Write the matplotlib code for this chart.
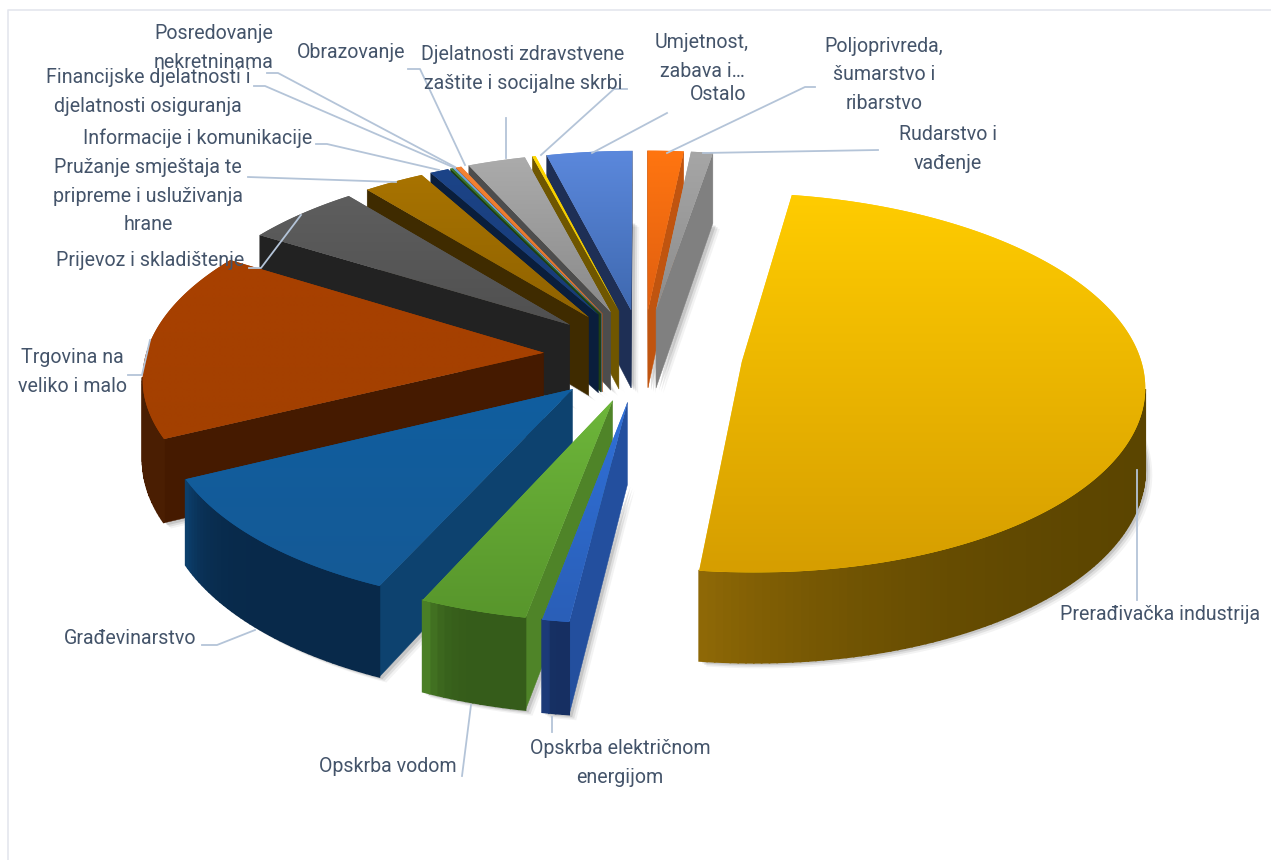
import numpy as np
import matplotlib
matplotlib.use("Agg")
import matplotlib.pyplot as plt
from matplotlib.patches import Polygon
from matplotlib.colors import to_rgb

categories = ["Poljoprivreda, šumarstvo i ribarstvo", "Rudarstvo i vađenje", "Prerađivačka industrija",
              "Opskrba električnom energijom", "Opskrba vodom", "Građevinarstvo", "Trgovina na veliko i malo",
              "Prijevoz i skladištenje", "Pružanje smještaja te pripreme i usluživanja hrane",
              "Informacije i komunikacije", "Financijske djelatnosti i djelatnosti osiguranja",
              "Posredovanje nekretninama", "Obrazovanje", "Djelatnosti zdravstvene zaštite i socijalne skrbi",
              "Umjetnost, zabava i…", "Ostalo"]
values = [1.65, 1.0, 49.3, 0.95, 3.81, 11.0, 16.15, 5.32, 2.8, 0.85, 0.1, 0.1, 0.25, 2.65, 0.15, 3.92]

# (top light, top dark, outer side light, outer side dark, cut face)
styles = [
    ("#FF7510", "#E05F10", "#C0540F", "#A84A0C", "#C0540F"),
    ("#A6A6A6", "#8C8C8C", "#8A8A8A", "#6E6E6E", "#808080"),
    ("#FFCC00", "#D69E00", "#8E6806", "#5A4400", "#5A4400"),
    ("#3070D8", "#2A5FB8", "#1C3A78", "#162F62", "#234F9E"),
    ("#6DB63A", "#58962C", "#4A7F26", "#355C1A", "#4F8428"),
    ("#105E9F", "#155A96", "#0C3F6B", "#08294A", "#0D426F"),
    ("#A84000", "#A34000", "#5E2605", "#4A1E02", "#451A00"),
    ("#5E5E5E", "#505050", "#2A2A2A", "#222222", "#222222"),
    ("#A87300", "#906300", "#4A3300", "#3F2B00", "#3F2B00"),
    ("#1C4488", "#173A74", "#0C1F44", "#0A1A38", "#0A1E3C"),
    ("#3F7A2A", "#356622", "#1F4012", "#1A360F", "#1F4012"),
    ("#6CA8DE", "#5C95CC", "#3C6A94", "#335C80", "#3C6A94"),
    ("#F58232", "#E0702A", "#A8541C", "#904818", "#A8541C"),
    ("#ABABAB", "#8A8A8A", "#555555", "#484848", "#4D4D4D"),
    ("#FFD800", "#E0BC00", "#7A5E00", "#6A5200", "#6F5600"),
    ("#5B88DC", "#3F69B0", "#24396A", "#1A2C52", "#1E2F55"),
]

label_texts = ["Poljoprivreda,\nšumarstvo i\nribarstvo", "Rudarstvo i\nvađenje", "Prerađivačka industrija",
               "Opskrba električnom\nenergijom", "Opskrba vodom", "Građevinarstvo", "Trgovina na\nveliko i malo",
               "Prijevoz i skladištenje", "Pružanje smještaja te\npripreme i usluživanja\nhrane",
               "Informacije i komunikacije", "Financijske djelatnosti i\ndjelatnosti osiguranja",
               "Posredovanje\nnekretninama", "Obrazovanje", "Djelatnosti zdravstvene\nzaštite i socijalne skrbi",
               "Umjetnost,\nzabava i…", "Ostalo"]
label_pos = [(884, 75), (948, 149), (1160, 615), (620, 763), (388, 766), (130, 638), (72, 372), (150, 261),
             (148, 196), (198, 138), (148, 92), (214, 48), (351, 52), (523, 69), (702, 57), (718, 94)]
leaders = [[(815, 87), (805, 87), (667, 153)], [(878, 150), (703, 153)], [(1137, 600), (1137, 470)],
           [(552, 732), (552, 717)], [(462, 776), (471, 705)], [(202, 645), (217, 645), (255, 630)],
           [(128, 375), (142, 375), (150, 340)], [(249, 268), (261, 268), (301, 215)], [(248, 177), (396, 182)],
           [(316, 144), (327, 144), (439, 170)], [(254, 86), (265, 86), (455, 168)], [(267, 73), (278, 73), (455, 167)],
           [(408, 69), (420, 69), (465, 165)], [(506, 118), (506, 158)], [(627, 89), (614, 89), (541, 155)],
           [(667, 113), (592, 153)]]

CX, CY, A, B, K, H, EXPLODE = 643, 355, 398, 186, 0.11, 80, 0.25
TEXT = "#44546A"
LINE = "#B4C4D8"

def project(X, Y, bottom=False):
    w = 1 + K * Y
    sy = CY - B * Y / w + (H / w if bottom else 0)
    return CX + A * X / w, sy

def mix(c1, c2, t):
    a, b = np.array(to_rgb(c1)), np.array(to_rgb(c2))
    return tuple(a + (b - a) * t)

def front(p, q, inner):
    ex, ey = q[0] - p[0], q[1] - p[1]
    return (ex * (inner[1] - p[1]) - ey * (inner[0] - p[0])) * ex < 0

fig = plt.figure(figsize=(12.71, 8.60), dpi=100)
ax = fig.add_axes([0, 0, 1, 1])
ax.set_axis_off()
ax.set_xlim(0, 1271)
ax.set_ylim(860, 0)

ax.plot([8, 8, 1271], [860, 10, 10], color="#E4E6EE", lw=1.2, zorder=0)

vals = np.array(values, float)
edges = np.concatenate([[0], np.cumsum(vals) / vals.sum() * 2 * np.pi])

for i, st in enumerate(styles):
    t1, t2 = edges[i], edges[i + 1]
    m = (t1 + t2) / 2
    ex, ey = EXPLODE * np.sin(m), EXPLODE * np.cos(m)
    th = np.linspace(t1, t2, max(3, int(np.degrees(t2 - t1)) + 2))
    rx, ry = ex + np.sin(th), ey + np.cos(th)
    top = [project(ex, ey)] + [project(x, y) for x, y in zip(rx, ry)]
    bot = [project(ex, ey, True)] + [project(x, y, True) for x, y in zip(rx, ry)]
    z = 10 + 10 * (1 - np.cos(m))

    # soft drop shadow
    for off, alpha in ((7, 0.07), (5, 0.12), (3, 0.18)):
        ax.add_patch(Polygon([(x + off, y + off * 0.8) for x, y in bot], closed=True, fc="#555555", ec="none", alpha=alpha, zorder=1))

    inner = top[len(top) // 2]
    # cut faces
    for r in (1, len(top) - 1):
        if front(top[0], top[r], inner):
            ax.add_patch(Polygon([top[0], top[r], bot[r], bot[0]], closed=True, fc=st[4], ec=st[4], lw=0.3, zorder=z))
    # outer face: lit side towards the end of the slice
    n = len(top) - 1
    for j in range(1, n):
        if front(top[j], top[j + 1], top[0]):
            frac = (j - 1) / max(1, n - 2)
            c = mix(st[3], st[2], frac ** 7)
            ax.add_patch(Polygon([top[j], top[j + 1], bot[j + 1], bot[j]], closed=True, fc=c, ec=c, lw=1.2, zorder=z + 0.1))
    # top surface with vertical gradient
    pts = np.array(top)
    y0, y1 = pts[:, 1].min(), pts[:, 1].max()
    x0, x1 = pts[:, 0].min(), pts[:, 0].max()
    grad = np.linspace(0, 1, 64)[:, None, None] * (np.array(to_rgb(st[1])) - np.array(to_rgb(st[0])))[None, None, :] + np.array(to_rgb(st[0]))[None, None, :]
    clip = Polygon(top, closed=True, fc=st[0], ec="none", zorder=z + 0.15)
    ax.add_patch(clip)
    im = ax.imshow(grad, extent=(x0, x1, y1, y0), aspect="auto", zorder=z + 0.2, interpolation="bilinear")
    im.set_clip_path(clip)

ax.set_xlim(0, 1271)
ax.set_ylim(860, 0)

for pts in leaders:
    xs, ys = zip(*pts)
    ax.plot(xs, ys, color=LINE, lw=1.3, zorder=30)

for txt, (x, y) in zip(label_texts, label_pos):
    ax.text(x, y, txt, ha="center", va="center", color=TEXT, fontsize=14.1, family="Roboto",
            linespacing=1.62, zorder=40)

fig.savefig("out.png", dpi=100)
